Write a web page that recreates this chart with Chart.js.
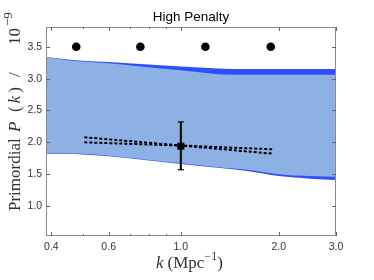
<!DOCTYPE html>
<html>
<head>
<meta charset="utf-8">
<script src="https://cdn.jsdelivr.net/npm/chart.js@4.4.1/dist/chart.umd.min.js"></script>
<style>
  html, body { margin: 0; padding: 0; background: #fff; }
  #chart { display: block; }
</style>
</head>
<body>
<canvas id="chart" width="374" height="280"></canvas>
<script>
// band samples (k in Mpc^-1)
const bandK = [0.385, 0.45, 0.5, 0.6, 0.75, 1.0, 1.3, 1.6, 2.0, 2.5, 3.0];
const upperLight = [3.34, 3.29, 3.27, 3.24, 3.19, 3.13, 3.07, 3.06, 3.06, 3.06, 3.06];
const lowerLight = [1.83, 1.83, 1.82, 1.79, 1.74, 1.67, 1.61, 1.57, 1.50, 1.47, 1.46];
const upperDark = [3.34, 3.30, 3.28, 3.26, 3.23, 3.19, 3.16, 3.15, 3.15, 3.15, 3.15];
const lowerDark = [1.82, 1.82, 1.81, 1.78, 1.73, 1.66, 1.60, 1.55, 1.47, 1.43, 1.41];

// dashed tilt lines
const tiltK = [0.505, 1.0, 1.93];
const tiltA = [2.08, 1.95, 1.82];
const tiltB = [2.00, 1.95, 1.89];

// measured point with error bar
const pivotK = 1.0;
const pivotVal = 1.94;
const pivotLow = 1.57;
const pivotHigh = 2.32;

// knot markers
const knotK = [0.477, 0.751, 1.19, 1.89];
const knotVal = [3.5, 3.5, 3.5, 3.5];

const xTicks = [0.4, 0.6, 1.0, 2.0, 3.0];
const xMinor = [0.5, 0.7, 0.8, 0.9];
const yTicks = [1.0, 1.5, 2.0, 2.5, 3.0, 3.5];

const pts = (xs, ys) => xs.map((x, i) => ({ x, y: ys[i] }));

const lightBlue = '#8db1e4';
const darkBlue = '#2e4ffd';

const frame = {
  id: 'frame',
  afterDraw(chart) {
    const { ctx, chartArea: { left, right, top, bottom }, scales: { x, y } } = chart;
    ctx.save();
    ctx.strokeStyle = '#8a8a8a';
    ctx.lineWidth = 1;
    ctx.strokeRect(left + 0.5, top + 0.5, right - left - 1, bottom - top - 1);

    ctx.strokeStyle = '#666';
    ctx.beginPath();
    const tickX = (v, len) => {
      const px = Math.round(x.getPixelForValue(v)) + 0.5;
      ctx.moveTo(px, bottom); ctx.lineTo(px, bottom - len);
      ctx.moveTo(px, top); ctx.lineTo(px, top + len);
    };
    xTicks.forEach(v => tickX(v, 4));
    xMinor.forEach(v => tickX(v, 2));
    yTicks.forEach(v => {
      const py = Math.round(y.getPixelForValue(v)) + 0.5;
      ctx.moveTo(left, py); ctx.lineTo(left + 4, py);
      ctx.moveTo(right, py); ctx.lineTo(right - 4, py);
    });
    ctx.stroke();

    // title
    ctx.fillStyle = '#000';
    ctx.font = '13.5px "Liberation Sans", Arial, sans-serif';
    ctx.textAlign = 'center';
    ctx.textBaseline = 'alphabetic';
    ctx.fillText('High Penalty', (left + right) / 2, 21);

    // axis titles, serif with italic symbols
    const serif = '"Liberation Serif", "DejaVu Serif", serif';
    const runText = (parts) => {
      let pos = 0;
      ctx.textAlign = 'left';
      parts.forEach(p => {
        if (p.at !== undefined) pos = p.at;
        pos += p.gap || 0;
        ctx.font = (p.italic ? 'italic ' : '') + (p.size || 17) + 'px ' + serif;
        ctx.fillText(p.t, pos, -(p.raise || 0));
        pos += ctx.measureText(p.t).width;
      });
    };

    ctx.fillStyle = '#333';
    ctx.save();
    ctx.translate(20, 211);
    ctx.rotate(-Math.PI / 2);
    runText([
      { t: 'Primordial' },
      { t: 'P', italic: true, at: 79 },
      { t: '(', at: 99 },
      { t: 'k', italic: true, gap: 3 },
      { t: ')', gap: 3 },
      { t: '/', at: 134 },
      { t: '10', at: 166 },
      { t: '\u22129', size: 13, raise: 8, gap: 2 },
    ]);
    ctx.restore();

    ctx.save();
    ctx.translate(156, 268);
    runText([
      { t: 'k', italic: true },
      { t: '(Mpc', gap: 4 },
      { t: '\u22121', size: 12, raise: 8 },
      { t: ')' },
    ]);
    ctx.restore();
    ctx.restore();
  }
};

const band = (data, fill, color, order) => ({
  data, fill, backgroundColor: color, borderWidth: 0, pointRadius: 0,
  cubicInterpolationMode: 'monotone', order,
});

const dashed = (data) => ({
  data, borderColor: '#000', borderWidth: 2, borderDash: [3, 2],
  pointRadius: 0, fill: false, tension: 0, order: 3,
});

new Chart(document.getElementById('chart'), {
  type: 'line',
  data: {
    datasets: [
      band(pts(bandK, upperDark), '+1', darkBlue, 6),
      band(pts(bandK, lowerDark), false, darkBlue, 6),
      band(pts(bandK, upperLight), '+1', lightBlue, 5),
      band(pts(bandK, lowerLight), false, lightBlue, 5),
      dashed(pts(tiltK, tiltA)),
      dashed(pts(tiltK, tiltB)),
      {
        data: [{ x: pivotK, y: pivotLow }, { x: pivotK, y: pivotHigh }],
        borderColor: '#000', borderWidth: 2,
        pointStyle: 'line', pointRadius: 3, pointBorderWidth: 1.2,
        pointBorderColor: '#000', fill: false, order: 2,
      },
      {
        data: [{ x: pivotK, y: pivotVal }],
        showLine: false, pointStyle: 'rect', pointRadius: 5,
        backgroundColor: '#000', borderColor: '#000', pointBorderWidth: 0, order: 1,
      },
      {
        data: pts(knotK, knotVal),
        showLine: false, pointStyle: 'circle', pointRadius: 4.3,
        backgroundColor: '#000', borderColor: '#000', pointBorderWidth: 0, order: 1,
      },
    ],
  },
  options: {
    responsive: false,
    animation: false,
    devicePixelRatio: 1,
    layout: { padding: { top: 27, right: 38, left: 0, bottom: 0 } },
    plugins: { legend: { display: false }, tooltip: { enabled: false } },
    scales: {
      x: {
        type: 'logarithmic',
        min: 0.385,
        max: 3.0,
        grid: { display: false, drawTicks: false },
        border: { display: false },
        afterFit: (scale) => { scale.height = 44; },
        afterBuildTicks: (scale) => { scale.ticks = xTicks.map(value => ({ value })); },
        ticks: {
          autoSkip: false, maxRotation: 0, padding: 5, color: '#333',
          font: { family: '"Liberation Sans", Arial, sans-serif', size: 10.5 },
          callback: (v) => Number(v).toFixed(1),
        },
      },
      y: {
        min: 0.53,
        max: 3.81,
        grid: { display: false, drawTicks: false },
        border: { display: false },
        afterFit: (scale) => { scale.width = 46; },
        afterBuildTicks: (scale) => { scale.ticks = yTicks.map(value => ({ value })); },
        ticks: {
          padding: 4, color: '#333',
          font: { family: '"Liberation Sans", Arial, sans-serif', size: 10.5 },
          callback: (v) => Number(v).toFixed(1),
        },
      },
    },
  },
  plugins: [frame],
});
</script>
</body>
</html>
